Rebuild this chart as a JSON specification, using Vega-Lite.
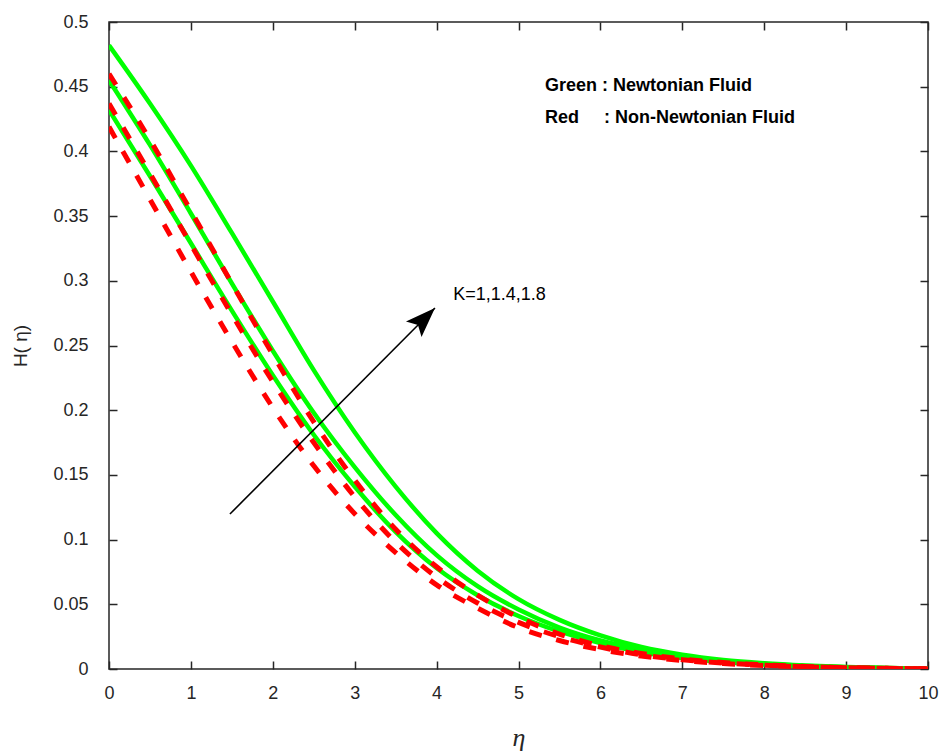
{
  "$schema": "https://vega.github.io/schema/vega-lite/v6.json",
  "width": 819,
  "height": 647,
  "autosize": {"type": "none"},
  "padding": {"left": 109, "top": 22, "right": 11, "bottom": 86},
  "background": "white",
  "config": {
    "view": {"stroke": "#262626", "strokeWidth": 1.5},
    "font": "Liberation Sans",
    "axis": {
      "grid": false,
      "domain": false,
      "offset": -8,
      "tickColor": "#262626",
      "tickWidth": 1.5,
      "tickSize": 8,
      "labelColor": "#262626",
      "labelFont": "Liberation Sans",
      "labelFontSize": 18,
      "titleColor": "#262626"
    }
  },
  "datasets": {
    "curves": [
      {"eta": 0, "H": 0.482, "fluid": "Newtonian", "K": "1.8"},
      {"eta": 0.5, "H": 0.437, "fluid": "Newtonian", "K": "1.8"},
      {"eta": 1, "H": 0.389, "fluid": "Newtonian", "K": "1.8"},
      {"eta": 1.5, "H": 0.337, "fluid": "Newtonian", "K": "1.8"},
      {"eta": 2, "H": 0.284, "fluid": "Newtonian", "K": "1.8"},
      {"eta": 2.5, "H": 0.231, "fluid": "Newtonian", "K": "1.8"},
      {"eta": 3, "H": 0.183, "fluid": "Newtonian", "K": "1.8"},
      {"eta": 3.5, "H": 0.141, "fluid": "Newtonian", "K": "1.8"},
      {"eta": 4, "H": 0.105, "fluid": "Newtonian", "K": "1.8"},
      {"eta": 4.5, "H": 0.076, "fluid": "Newtonian", "K": "1.8"},
      {"eta": 5, "H": 0.054, "fluid": "Newtonian", "K": "1.8"},
      {"eta": 5.5, "H": 0.038, "fluid": "Newtonian", "K": "1.8"},
      {"eta": 6, "H": 0.026, "fluid": "Newtonian", "K": "1.8"},
      {"eta": 6.5, "H": 0.017, "fluid": "Newtonian", "K": "1.8"},
      {"eta": 7, "H": 0.011, "fluid": "Newtonian", "K": "1.8"},
      {"eta": 7.5, "H": 0.007, "fluid": "Newtonian", "K": "1.8"},
      {"eta": 8, "H": 0.0045, "fluid": "Newtonian", "K": "1.8"},
      {"eta": 8.5, "H": 0.0028, "fluid": "Newtonian", "K": "1.8"},
      {"eta": 9, "H": 0.0016, "fluid": "Newtonian", "K": "1.8"},
      {"eta": 9.5, "H": 0.0008, "fluid": "Newtonian", "K": "1.8"},
      {"eta": 10, "H": 0.0002, "fluid": "Newtonian", "K": "1.8"},
      {"eta": 0, "H": 0.455, "fluid": "Newtonian", "K": "1.4"},
      {"eta": 0.5, "H": 0.405, "fluid": "Newtonian", "K": "1.4"},
      {"eta": 1, "H": 0.352, "fluid": "Newtonian", "K": "1.4"},
      {"eta": 1.5, "H": 0.298, "fluid": "Newtonian", "K": "1.4"},
      {"eta": 2, "H": 0.246, "fluid": "Newtonian", "K": "1.4"},
      {"eta": 2.5, "H": 0.198, "fluid": "Newtonian", "K": "1.4"},
      {"eta": 3, "H": 0.156, "fluid": "Newtonian", "K": "1.4"},
      {"eta": 3.5, "H": 0.119, "fluid": "Newtonian", "K": "1.4"},
      {"eta": 4, "H": 0.088, "fluid": "Newtonian", "K": "1.4"},
      {"eta": 4.5, "H": 0.064, "fluid": "Newtonian", "K": "1.4"},
      {"eta": 5, "H": 0.046, "fluid": "Newtonian", "K": "1.4"},
      {"eta": 5.5, "H": 0.032, "fluid": "Newtonian", "K": "1.4"},
      {"eta": 6, "H": 0.022, "fluid": "Newtonian", "K": "1.4"},
      {"eta": 6.5, "H": 0.015, "fluid": "Newtonian", "K": "1.4"},
      {"eta": 7, "H": 0.0095, "fluid": "Newtonian", "K": "1.4"},
      {"eta": 7.5, "H": 0.006, "fluid": "Newtonian", "K": "1.4"},
      {"eta": 8, "H": 0.0038, "fluid": "Newtonian", "K": "1.4"},
      {"eta": 8.5, "H": 0.0024, "fluid": "Newtonian", "K": "1.4"},
      {"eta": 9, "H": 0.0014, "fluid": "Newtonian", "K": "1.4"},
      {"eta": 9.5, "H": 0.0007, "fluid": "Newtonian", "K": "1.4"},
      {"eta": 10, "H": 0.0002, "fluid": "Newtonian", "K": "1.4"},
      {"eta": 0, "H": 0.432, "fluid": "Newtonian", "K": "1"},
      {"eta": 0.5, "H": 0.381, "fluid": "Newtonian", "K": "1"},
      {"eta": 1, "H": 0.329, "fluid": "Newtonian", "K": "1"},
      {"eta": 1.5, "H": 0.277, "fluid": "Newtonian", "K": "1"},
      {"eta": 2, "H": 0.227, "fluid": "Newtonian", "K": "1"},
      {"eta": 2.5, "H": 0.181, "fluid": "Newtonian", "K": "1"},
      {"eta": 3, "H": 0.141, "fluid": "Newtonian", "K": "1"},
      {"eta": 3.5, "H": 0.106, "fluid": "Newtonian", "K": "1"},
      {"eta": 4, "H": 0.078, "fluid": "Newtonian", "K": "1"},
      {"eta": 4.5, "H": 0.057, "fluid": "Newtonian", "K": "1"},
      {"eta": 5, "H": 0.041, "fluid": "Newtonian", "K": "1"},
      {"eta": 5.5, "H": 0.029, "fluid": "Newtonian", "K": "1"},
      {"eta": 6, "H": 0.020, "fluid": "Newtonian", "K": "1"},
      {"eta": 6.5, "H": 0.013, "fluid": "Newtonian", "K": "1"},
      {"eta": 7, "H": 0.0085, "fluid": "Newtonian", "K": "1"},
      {"eta": 7.5, "H": 0.0055, "fluid": "Newtonian", "K": "1"},
      {"eta": 8, "H": 0.0035, "fluid": "Newtonian", "K": "1"},
      {"eta": 8.5, "H": 0.0022, "fluid": "Newtonian", "K": "1"},
      {"eta": 9, "H": 0.0013, "fluid": "Newtonian", "K": "1"},
      {"eta": 9.5, "H": 0.0006, "fluid": "Newtonian", "K": "1"},
      {"eta": 10, "H": 0.0002, "fluid": "Newtonian", "K": "1"},
      {"eta": 0, "H": 0.460, "fluid": "Non-Newtonian", "K": "1.8"},
      {"eta": 0.5, "H": 0.409, "fluid": "Non-Newtonian", "K": "1.8"},
      {"eta": 1, "H": 0.354, "fluid": "Non-Newtonian", "K": "1.8"},
      {"eta": 1.5, "H": 0.298, "fluid": "Non-Newtonian", "K": "1.8"},
      {"eta": 2, "H": 0.243, "fluid": "Non-Newtonian", "K": "1.8"},
      {"eta": 2.5, "H": 0.191, "fluid": "Non-Newtonian", "K": "1.8"},
      {"eta": 3, "H": 0.146, "fluid": "Non-Newtonian", "K": "1.8"},
      {"eta": 3.5, "H": 0.108, "fluid": "Non-Newtonian", "K": "1.8"},
      {"eta": 4, "H": 0.079, "fluid": "Non-Newtonian", "K": "1.8"},
      {"eta": 4.5, "H": 0.057, "fluid": "Non-Newtonian", "K": "1.8"},
      {"eta": 5, "H": 0.040, "fluid": "Non-Newtonian", "K": "1.8"},
      {"eta": 5.5, "H": 0.027, "fluid": "Non-Newtonian", "K": "1.8"},
      {"eta": 6, "H": 0.018, "fluid": "Non-Newtonian", "K": "1.8"},
      {"eta": 6.5, "H": 0.012, "fluid": "Non-Newtonian", "K": "1.8"},
      {"eta": 7, "H": 0.0078, "fluid": "Non-Newtonian", "K": "1.8"},
      {"eta": 7.5, "H": 0.005, "fluid": "Non-Newtonian", "K": "1.8"},
      {"eta": 8, "H": 0.0032, "fluid": "Non-Newtonian", "K": "1.8"},
      {"eta": 8.5, "H": 0.002, "fluid": "Non-Newtonian", "K": "1.8"},
      {"eta": 9, "H": 0.0011, "fluid": "Non-Newtonian", "K": "1.8"},
      {"eta": 9.5, "H": 0.0005, "fluid": "Non-Newtonian", "K": "1.8"},
      {"eta": 10, "H": 0.0001, "fluid": "Non-Newtonian", "K": "1.8"},
      {"eta": 0, "H": 0.437, "fluid": "Non-Newtonian", "K": "1.4"},
      {"eta": 0.5, "H": 0.383, "fluid": "Non-Newtonian", "K": "1.4"},
      {"eta": 1, "H": 0.328, "fluid": "Non-Newtonian", "K": "1.4"},
      {"eta": 1.5, "H": 0.274, "fluid": "Non-Newtonian", "K": "1.4"},
      {"eta": 2, "H": 0.222, "fluid": "Non-Newtonian", "K": "1.4"},
      {"eta": 2.5, "H": 0.175, "fluid": "Non-Newtonian", "K": "1.4"},
      {"eta": 3, "H": 0.133, "fluid": "Non-Newtonian", "K": "1.4"},
      {"eta": 3.5, "H": 0.098, "fluid": "Non-Newtonian", "K": "1.4"},
      {"eta": 4, "H": 0.071, "fluid": "Non-Newtonian", "K": "1.4"},
      {"eta": 4.5, "H": 0.051, "fluid": "Non-Newtonian", "K": "1.4"},
      {"eta": 5, "H": 0.036, "fluid": "Non-Newtonian", "K": "1.4"},
      {"eta": 5.5, "H": 0.025, "fluid": "Non-Newtonian", "K": "1.4"},
      {"eta": 6, "H": 0.017, "fluid": "Non-Newtonian", "K": "1.4"},
      {"eta": 6.5, "H": 0.011, "fluid": "Non-Newtonian", "K": "1.4"},
      {"eta": 7, "H": 0.0072, "fluid": "Non-Newtonian", "K": "1.4"},
      {"eta": 7.5, "H": 0.0046, "fluid": "Non-Newtonian", "K": "1.4"},
      {"eta": 8, "H": 0.003, "fluid": "Non-Newtonian", "K": "1.4"},
      {"eta": 8.5, "H": 0.0018, "fluid": "Non-Newtonian", "K": "1.4"},
      {"eta": 9, "H": 0.001, "fluid": "Non-Newtonian", "K": "1.4"},
      {"eta": 9.5, "H": 0.0005, "fluid": "Non-Newtonian", "K": "1.4"},
      {"eta": 10, "H": 0.0001, "fluid": "Non-Newtonian", "K": "1.4"},
      {"eta": 0, "H": 0.419, "fluid": "Non-Newtonian", "K": "1"},
      {"eta": 0.5, "H": 0.363, "fluid": "Non-Newtonian", "K": "1"},
      {"eta": 1, "H": 0.307, "fluid": "Non-Newtonian", "K": "1"},
      {"eta": 1.5, "H": 0.253, "fluid": "Non-Newtonian", "K": "1"},
      {"eta": 2, "H": 0.202, "fluid": "Non-Newtonian", "K": "1"},
      {"eta": 2.5, "H": 0.157, "fluid": "Non-Newtonian", "K": "1"},
      {"eta": 3, "H": 0.120, "fluid": "Non-Newtonian", "K": "1"},
      {"eta": 3.5, "H": 0.090, "fluid": "Non-Newtonian", "K": "1"},
      {"eta": 4, "H": 0.065, "fluid": "Non-Newtonian", "K": "1"},
      {"eta": 4.5, "H": 0.047, "fluid": "Non-Newtonian", "K": "1"},
      {"eta": 5, "H": 0.032, "fluid": "Non-Newtonian", "K": "1"},
      {"eta": 5.5, "H": 0.022, "fluid": "Non-Newtonian", "K": "1"},
      {"eta": 6, "H": 0.015, "fluid": "Non-Newtonian", "K": "1"},
      {"eta": 6.5, "H": 0.010, "fluid": "Non-Newtonian", "K": "1"},
      {"eta": 7, "H": 0.0065, "fluid": "Non-Newtonian", "K": "1"},
      {"eta": 7.5, "H": 0.0042, "fluid": "Non-Newtonian", "K": "1"},
      {"eta": 8, "H": 0.0027, "fluid": "Non-Newtonian", "K": "1"},
      {"eta": 8.5, "H": 0.0016, "fluid": "Non-Newtonian", "K": "1"},
      {"eta": 9, "H": 0.0009, "fluid": "Non-Newtonian", "K": "1"},
      {"eta": 9.5, "H": 0.0004, "fluid": "Non-Newtonian", "K": "1"},
      {"eta": 10, "H": 0.0001, "fluid": "Non-Newtonian", "K": "1"}
    ],
    "notes": [
      {"eta": 5.324, "H": 0.4469, "label": "Green : Newtonian Fluid"},
      {"eta": 5.324, "H": 0.4217, "label": "Red\u00a0\u00a0\u00a0\u00a0\u00a0: Non-Newtonian Fluid"}
    ],
    "klabel": [
      {"eta": 4.204, "H": 0.2852, "label": "K=1,1.4,1.8"}
    ],
    "arrow": [
      {"eta": 1.477, "H": 0.1198, "eta2": 3.98, "H2": 0.279}
    ]
  },
  "layer": [
    {
      "data": {"name": "curves"},
      "transform": [{"filter": "datum.fluid === 'Newtonian'"}],
      "mark": {"type": "line", "color": "#00ff00", "strokeWidth": 4.5, "interpolate": "monotone", "clip": true},
      "encoding": {
        "x": {
          "field": "eta", "type": "quantitative",
          "scale": {"domain": [0, 10], "nice": false, "zero": false},
          "axis": {
            "orient": "bottom",
            "values": [0, 1, 2, 3, 4, 5, 6, 7, 8, 9, 10],
            "labelFlush": false,
            "labelOverlap": false,
            "labelPadding": 15,
            "title": "η",
            "titleFont": "Liberation Serif",
            "titleFontStyle": "italic",
            "titleFontWeight": "normal",
            "titleFontSize": 26,
            "titlePadding": 22
          }
        },
        "y": {
          "field": "H", "type": "quantitative",
          "scale": {"domain": [0, 0.5], "nice": false, "zero": false},
          "axis": {
            "orient": "left",
            "values": [0, 0.05, 0.1, 0.15, 0.2, 0.25, 0.3, 0.35, 0.4, 0.45, 0.5],
            "format": "~g",
            "labelFlush": false,
            "labelOverlap": false,
            "labelPadding": 21,
            "title": "H( η)",
            "titleFont": "Liberation Sans",
            "titleFontWeight": "normal",
            "titleFontSize": 19,
            "titlePadding": 22
          }
        },
        "detail": {"field": "K"}
      }
    },
    {
      "data": {"name": "curves"},
      "transform": [{"filter": "datum.fluid === 'Non-Newtonian'"}],
      "mark": {"type": "line", "color": "#ff0000", "strokeWidth": 5, "strokeDash": [13, 15], "interpolate": "monotone", "clip": true},
      "encoding": {
        "x": {
          "field": "eta", "type": "quantitative",
          "scale": {"domain": [0, 10], "nice": false, "zero": false},
          "axis": {
            "orient": "top",
            "values": [0, 1, 2, 3, 4, 5, 6, 7, 8, 9, 10],
            "labels": false,
            "title": null
          }
        },
        "y": {
          "field": "H", "type": "quantitative",
          "scale": {"domain": [0, 0.5], "nice": false, "zero": false},
          "axis": {
            "orient": "right",
            "values": [0, 0.05, 0.1, 0.15, 0.2, 0.25, 0.3, 0.35, 0.4, 0.45, 0.5],
            "labels": false,
            "title": null
          }
        },
        "detail": {"field": "K"}
      }
    },
    {
      "data": {"name": "notes"},
      "mark": {"type": "text", "align": "left", "baseline": "alphabetic", "fontWeight": "bold", "fontSize": 18, "font": "Liberation Sans", "color": "#000000"},
      "encoding": {
        "x": {"field": "eta", "type": "quantitative", "axis": null},
        "y": {"field": "H", "type": "quantitative", "axis": null},
        "text": {"field": "label"}
      }
    },
    {
      "data": {"name": "klabel"},
      "mark": {"type": "text", "align": "left", "baseline": "alphabetic", "fontSize": 18, "font": "Liberation Sans", "color": "#000000"},
      "encoding": {
        "x": {"field": "eta", "type": "quantitative", "axis": null},
        "y": {"field": "H", "type": "quantitative", "axis": null},
        "text": {"field": "label"}
      }
    },
    {
      "data": {"name": "arrow"},
      "mark": {"type": "rule", "color": "#000000", "strokeWidth": 1.6},
      "encoding": {
        "x": {"field": "eta", "type": "quantitative", "axis": null},
        "y": {"field": "H", "type": "quantitative", "axis": null},
        "x2": {"field": "eta2"},
        "y2": {"field": "H2"}
      }
    },
    {
      "data": {"name": "arrow"},
      "mark": {"type": "point", "shape": "M0,0L1.1,3L0,2.4L-1.1,3Z", "size": 400, "angle": 45, "filled": true, "color": "#000000", "opacity": 1, "strokeWidth": 0},
      "encoding": {
        "x": {"field": "eta2", "type": "quantitative", "axis": null},
        "y": {"field": "H2", "type": "quantitative", "axis": null}
      }
    }
  ],
  "resolve": {"axis": {"x": "independent", "y": "independent"}}
}
